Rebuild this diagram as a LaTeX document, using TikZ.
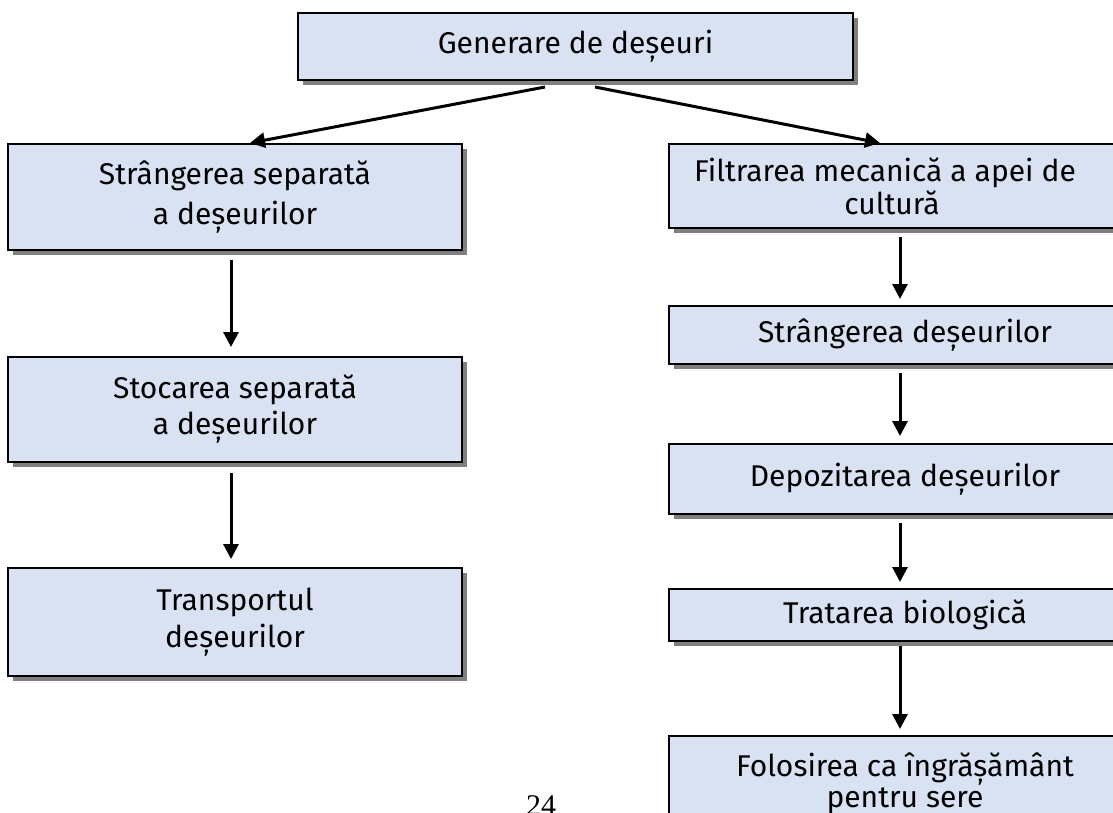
\documentclass[tikz,border=0pt]{standalone}
\usepackage{fontspec}
\setmainfont{Fira Sans}
\newfontfamily\seriffont{Liberation Serif}
\usetikzlibrary{arrows.meta,shadows}
\definecolor{boxfill}{RGB}{217,226,243}
\definecolor{shadowgray}{RGB}{128,128,128}
\begin{document}
\begin{tikzpicture}[x=1pt,y=-1pt,
  box/.style={draw=black, line width=2pt, fill=boxfill,
    general shadow={fill=shadowgray, shadow xshift=5pt, shadow yshift=-5pt},
    inner sep=0pt, align=center},
  txt/.style={font=\fontsize{30}{#1}\selectfont},
  arr/.style={line width=3pt, -{Triangle[width=15pt,length=15pt]}}]
\clip (0,0) rectangle (1113,813);
\fill[white] (0,0) rectangle (1113,813);
% nodes
\node[box, txt=34, minimum width=555pt, minimum height=67pt] (top) at (575.5,46.5) {Generare de deșeuri};
\node[box, txt=40, minimum width=454pt, minimum height=106pt] (l1) at (235,197) {Strângerea separată\\a deșeurilor};
\node[box, txt=36, minimum width=454pt, minimum height=105pt] (l2) at (235,409.5) {Stocarea separată\\a deșeurilor};
\node[box, txt=37, minimum width=454pt, minimum height=108pt] (l3) at (235,622) {Transportul\\deșeurilor};
\node[box, txt=33, minimum width=472pt, minimum height=84pt] (r1) at (905,186) {Filtrarea mecanică a apei de\hspace*{40pt}\\cultură\hspace*{26pt}};
\node[box, txt=34, minimum width=472pt, minimum height=58pt] (r2) at (905,335) {Strângerea deșeurilor};
\node[box, txt=34, minimum width=472pt, minimum height=70pt] (r3) at (905,479) {Depozitarea deșeurilor};
\node[box, txt=34, minimum width=472pt, minimum height=52pt] (r4) at (905,615) {Tratarea biologică};
\node[box, txt=31, minimum width=472pt, minimum height=94pt] (r5) at (905,783) {Folosirea ca îngrășământ\\pentru sere};
\node[font=\seriffont\fontsize{30}{30}\selectfont, anchor=base, inner sep=0pt] (pg) at (541,815) {24};
% connectors
\draw[arr] ([xshift=-30.5pt,yshift=-6pt]top.south) -- ([xshift=15pt]l1.north);
\draw[arr] ([xshift=19.5pt,yshift=-6pt]top.south) -- ([xshift=-25pt]r1.north);
\draw[arr] ([xshift=-4pt,yshift=-9pt]l1.south) -- ([xshift=-4pt,yshift=9pt]l2.north);
\draw[arr] ([xshift=-4pt,yshift=-10pt]l2.south) -- ([xshift=-4pt,yshift=8pt]l3.north);
\draw[arr] ([xshift=-5pt,yshift=-8pt]r1.south) -- ([xshift=-5pt,yshift=6pt]r2.north);
\draw[arr] ([xshift=-5pt,yshift=-8pt]r2.south) -- ([xshift=-5pt,yshift=7pt]r3.north);
\draw[arr] ([xshift=-5pt,yshift=-8pt]r3.south) -- ([xshift=-5pt,yshift=6pt]r4.north);
\draw[arr] ([xshift=-5pt,yshift=-4pt]r4.south) -- ([xshift=-5pt,yshift=6pt]r5.north);
\end{tikzpicture}
\end{document}
